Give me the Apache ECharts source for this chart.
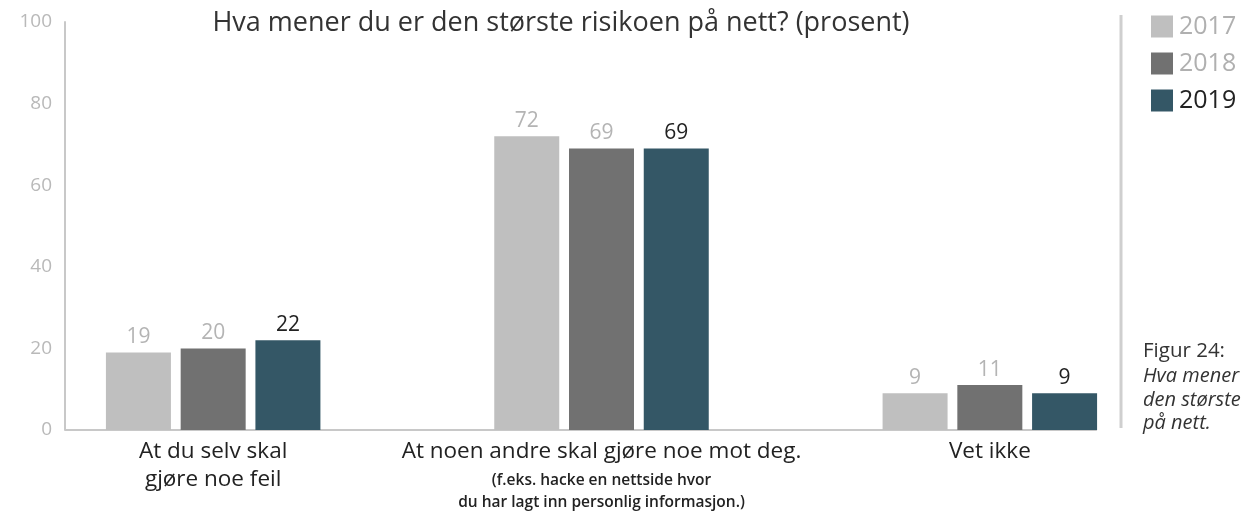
<!DOCTYPE html>
<html><head><meta charset="utf-8">
<script src="https://cdn.jsdelivr.net/npm/echarts@6/dist/echarts.min.js"></script>
<style>html,body{margin:0;padding:0;background:#fff;}#c{width:1243px;height:515px;}</style>
</head><body><div id="c"></div>
<script>
const categories = ['cat1', 'cat2', 'cat3'];
const years = ['2017', '2018', '2019'];
const values2017 = [19, 72, 9];
const values2018 = [20, 69, 11];
const values2019 = [22, 69, 9];
const yTicks = [0, 20, 40, 60, 80, 100];

const colors = ['#bfbfbf', '#717171', '#345766'];
const labelColors = ['#b4b4b4', '#b4b4b4', '#222222'];
const FONT = '"Open Sans"';

const chart = echarts.init(document.getElementById('c'), null, {renderer: 'canvas'});
const seriesData = [values2017, values2018, values2019];

const option = {
  animation: false,
  textStyle: {fontFamily: FONT},
  title: {
    text: 'Hva mener du er den største risikoen på nett? (prosent)',
    left: 556, top: 5, textAlign: 'center',
    textStyle: {fontFamily: FONT, fontSize: 27, fontWeight: 'normal', color: '#333'}
  },
  legend: {
    orient: 'vertical', left: 1146, top: 9,
    itemWidth: 22, itemHeight: 22, itemGap: 12,
    icon: 'rect',
    data: years.map((y, i) => ({name: y, textStyle: {color: i === 2 ? '#222' : '#b0b0b0'}})),
    textStyle: {fontFamily: FONT, fontSize: 25, padding: [0, 0, 0, 1]}
  },
  grid: {left: 19, right: 59, top: 22, bottom: 85, containLabel: false},
  xAxis: {
    type: 'category', data: categories,
    axisLine: {show: false}, axisTick: {show: false},
    axisLabel: {
      margin: 8, interval: 0,
      formatter: function (v) {
        if (v === 'cat1') return '{m|At du selv skal}\n{m|gjøre noe feil}';
        if (v === 'cat2') return '{m|At noen andre skal gjøre noe mot deg.}\n{s1|(f.eks. hacke en nettside hvor}\n{s2|du har lagt inn personlig informasjon.)}';
        return '{m|Vet ikke}';
      },
      rich: {
        m: {fontFamily: FONT, fontSize: 22.5, color: '#222', lineHeight: 28},
        s1: {fontFamily: FONT, fontSize: 15.5, fontWeight: 600, color: '#222', lineHeight: 30},
        s2: {fontFamily: FONT, fontSize: 15.5, fontWeight: 600, color: '#222', lineHeight: 14}
      }
    }
  },
  yAxis: {
    type: 'value', min: 0, max: 100, interval: 20, offset: -46,
    axisLine: {show: true, lineStyle: {color: '#c8c8c8', width: 2}},
    axisTick: {show: false}, splitLine: {show: false},
    axisLabel: {margin: 13, fontFamily: FONT, fontSize: 19, color: '#b9b9b9',
      formatter: v => yTicks.includes(v) ? String(v) : ''}
  },
  series: years.map((y, i) => ({
    name: y, type: 'bar', data: seriesData[i],
    barWidth: 65, barGap: '15%',
    itemStyle: {color: colors[i]},
    label: {show: true, position: 'top', distance: 5, fontFamily: FONT, fontSize: 21, color: labelColors[i]}
  })),
  graphic: [
    {type: 'text', left: 1143, top: 341,
      style: {text: 'Figur 24:', fontFamily: FONT, fontSize: 20.5, fill: '#333', fontWeight: 500}},
    {type: 'text', left: 1143, top: 365,
      style: {text: 'Hva mener du er\nden største risikoen\npå nett.', fontFamily: FONT, fontSize: 20, fontStyle: 'italic', fill: '#333', lineHeight: 23.5}}
  ]
};
chart.setOption(option);

// axis baseline and right divider, placed from the chart's own scale
const y0 = chart.convertToPixel({yAxisIndex: 0}, 0);
const yTop = chart.convertToPixel({yAxisIndex: 0}, 100);
const gridLeft = 19 + 46;
const lastCenter = chart.convertToPixel({xAxisIndex: 0}, categories[2]);
chart.setOption({
  graphic: option.graphic.concat([
    {type: 'line', shape: {x1: gridLeft, y1: y0, x2: lastCenter + 107, y2: y0}, style: {stroke: '#c8c8c8', lineWidth: 2}},
    {type: 'line', shape: {x1: 1121, y1: yTop - 7, x2: 1121, y2: y0 - 2}, style: {stroke: '#cfcfcf', lineWidth: 3}}
  ])
});
</script></body></html>
